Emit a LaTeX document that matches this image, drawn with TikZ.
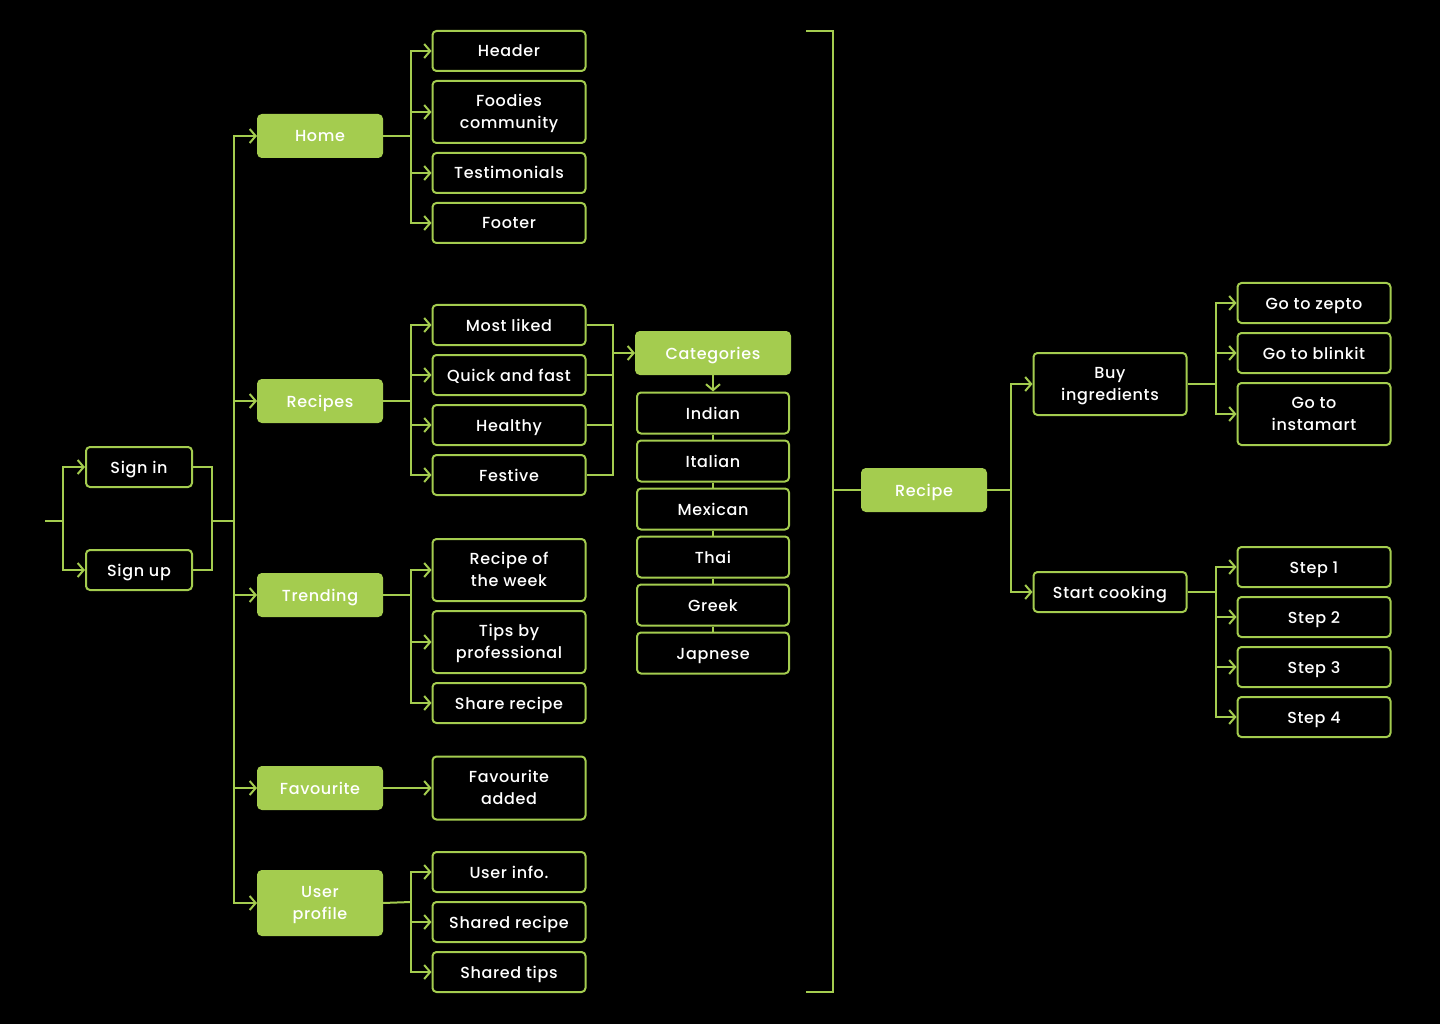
\documentclass[tikz,border=0pt]{standalone}
\usepackage{fontspec}
\setmainfont{Poppins Medium}[LetterSpace=4]
\usetikzlibrary{arrows.meta}
\definecolor{lime}{RGB}{164,204,79}
\tikzset{
  ln/.style={draw=lime, line width=2pt},
  arr/.style={ln, -{Straight Barb[length=6pt,width=14pt,line width=2pt]}},
  box/.style={draw=lime, line width=2pt, rounded corners=4pt, fill=black, text=white,
    minimum width=153pt, minimum height=40pt, align=center, inner sep=0pt,
    font=\fontsize{16pt}{22pt}\selectfont, text height=12pt, text depth=0pt},
  tall/.style={minimum height=62pt, text height=33pt, text depth=0pt},
  gbox/.style={box, fill=lime, minimum width=124pt, minimum height=42pt},
}
\begin{document}
\begin{tikzpicture}[x=1pt,y=-1pt]
\fill[black] (0,0) rectangle (1440,1024);
\useasboundingbox (0,0) rectangle (1440,1024);
% sign in / up
\node[box, minimum width=106pt] (signin) at (139,467) {Sign in};
\node[box, minimum width=106pt] (signup) at (139,570) {Sign up};
\coordinate (ls) at (45,521);
\coordinate (lj) at (63,521);
\coordinate (rj) at (212,521);
\coordinate (tj) at (234,521);
\draw[ln] (ls) -- (lj);
\draw[arr] (lj) |- (signin.west);
\draw[arr] (lj) |- (signup.west);
\draw[ln] (signin.east) -| (rj);
\draw[ln] (signup.east) -| (rj);
\draw[ln] (rj) -- (tj);
% level 1
\node[gbox] (home) at (320,136) {Home};
\node[gbox] (recipes) at (320,401) {Recipes};
\node[gbox] (trending) at (320,595) {Trending};
\node[gbox] (fav) at (320,788) {Favourite};
\node[gbox, tall, minimum height=64pt] (user) at (320,903) {User\\profile};
\foreach \n in {home,recipes,trending,fav,user} \draw[arr] (tj) |- (\n.west);
% home children
\node[box] (header) at (509,51) {Header};
\node[box, tall] (foodies) at (509,112) {Foodies\\community};
\node[box] (testi) at (509,173) {Testimonials};
\node[box] (footer) at (509,223) {Footer};
\coordinate (hj) at (411,136);
\draw[ln] (home.east) -- (hj);
\foreach \n in {header,foodies,testi,footer} \draw[arr] (hj) |- (\n.west);
% recipes children
\node[box] (liked) at (509,325) {Most liked};
\node[box] (quick) at (509,375) {Quick and fast};
\node[box] (healthy) at (509,425) {Healthy};
\node[box] (festive) at (509,475) {Festive};
\coordinate (rcj) at (411,401);
\draw[ln] (recipes.east) -- (rcj);
\foreach \n in {liked,quick,healthy,festive} \draw[arr] (rcj) |- (\n.west);
\coordinate (cj) at (613,353);
\foreach \n in {liked,quick,healthy,festive} \draw[ln] (\n.east) -| (cj);
\node[gbox, minimum width=154pt] (cat) at (713,353) {Categories};
\draw[arr] (cj) -- (cat.west);
\node[box, minimum width=152pt, minimum height=41pt] (indian) at (713,413) {Indian};
\node[box, minimum width=152pt, minimum height=41pt] (italian) at (713,461) {Italian};
\node[box, minimum width=152pt, minimum height=41pt] (mexican) at (713,509) {Mexican};
\node[box, minimum width=152pt, minimum height=41pt] (thai) at (713,557) {Thai};
\node[box, minimum width=152pt, minimum height=41pt] (greek) at (713,605) {Greek};
\node[box, minimum width=152pt, minimum height=41pt] (jap) at (713,653) {Japnese};
\draw[arr] (cat.south) -- (indian.north);
\draw[ln] (indian.south) -- (italian.north);
\draw[ln] (italian.south) -- (mexican.north);
\draw[ln] (mexican.south) -- (thai.north);
\draw[ln] (thai.south) -- (greek.north);
\draw[ln] (greek.south) -- (jap.north);
% trending children
\node[box, tall] (week) at (509,570) {Recipe of\\the week};
\node[box, tall] (tips) at (509,642) {Tips by\\professional};
\node[box] (share) at (509,703) {Share recipe};
\coordinate (trj) at (411,595);
\draw[ln] (trending.east) -- (trj);
\foreach \n in {week,tips,share} \draw[arr] (trj) |- (\n.west);
% favourite
\node[box, tall, minimum height=63pt] (favadd) at (509,788) {Favourite\\added};
\draw[arr] (fav.east) -- (favadd.west);
% user children
\node[box] (uinfo) at (509,872) {User info.};
\node[box] (shrec) at (509,922) {Shared recipe};
\node[box] (shtips) at (509,972) {Shared tips};
\coordinate (uj) at (411,902);
\draw[ln] (user.east) -- (uj);
\foreach \n in {uinfo,shrec,shtips} \draw[arr] (uj) |- (\n.west);
% bracket
\coordinate (bt) at (806,31);
\coordinate (btr) at (833,31);
\coordinate (bbr) at (833,992);
\coordinate (bb) at (806,992);
\coordinate (bj) at (833,490);
\draw[ln] (bt) -- (btr) -- (bbr) -- (bb);
\node[gbox] (recipe) at (924,490) {Recipe};
\draw[ln] (bj) -- (recipe.west);
% recipe children
\node[box, tall] (buy) at (1110,384) {Buy\\ingredients};
\node[box] (cook) at (1110,592) {Start cooking};
\coordinate (rej) at (1011,490);
\draw[ln] (recipe.east) -- (rej);
\draw[arr] (rej) |- (buy.west);
\draw[arr] (rej) |- (cook.west);
\node[box] (zepto) at (1314,303) {Go to zepto};
\node[box] (blinkit) at (1314,353) {Go to blinkit};
\node[box, tall] (insta) at (1314,414) {Go to\\instamart};
\coordinate (bj2) at (1216,384);
\draw[ln] (buy.east) -- (bj2);
\foreach \n in {zepto,blinkit,insta} \draw[arr] (bj2) |- (\n.west);
\node[box] (s1) at (1314,567) {Step 1};
\node[box] (s2) at (1314,617) {Step 2};
\node[box] (s3) at (1314,667) {Step 3};
\node[box] (s4) at (1314,717) {Step 4};
\coordinate (cj2) at (1216,592);
\draw[ln] (cook.east) -- (cj2);
\foreach \n in {s1,s2,s3,s4} \draw[arr] (cj2) |- (\n.west);
\end{tikzpicture}
\end{document}
